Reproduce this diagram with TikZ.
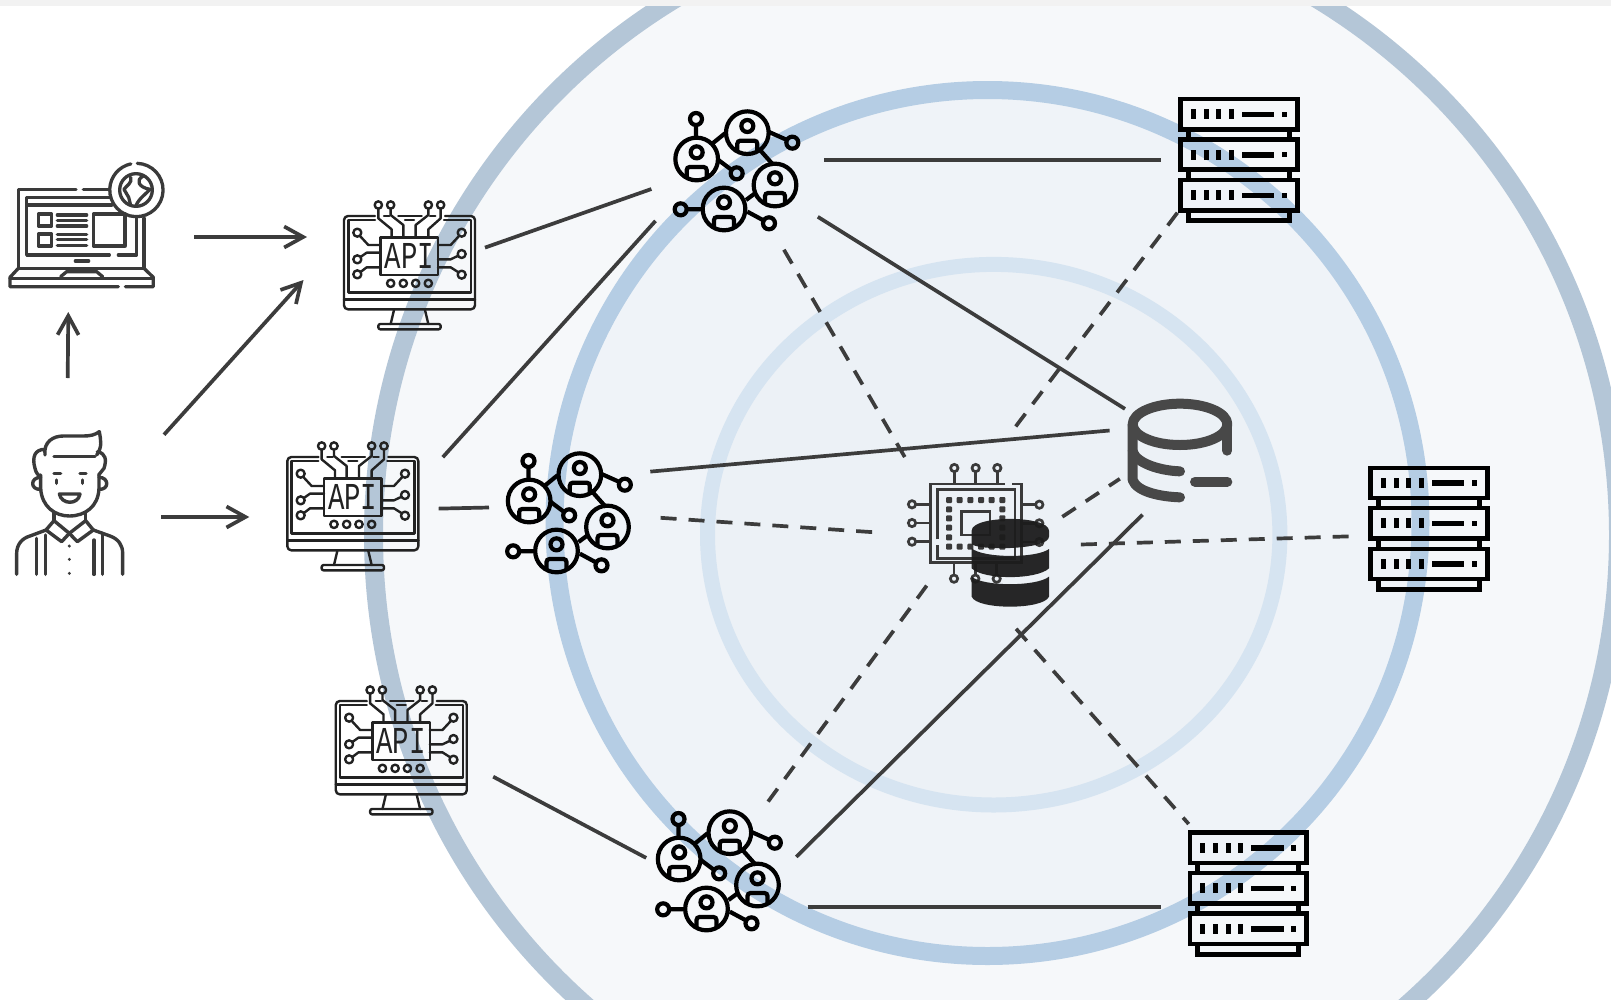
\documentclass[tikz,border=0pt]{standalone}
\usepackage{fontspec}
\newfontfamily\apifont{Liberation Mono}
\usetikzlibrary{arrows.meta}
\definecolor{lineC}{HTML}{3C3C3C}
\definecolor{iconC}{HTML}{3A3A3A}
\definecolor{monC}{HTML}{222222}
\definecolor{dbgrey}{HTML}{484848}
\definecolor{dbdark}{HTML}{1C1C1C}
\definecolor{ringOutFill}{HTML}{F6F8FA}
\definecolor{ringOut}{HTML}{B4C6D7}
\definecolor{ringMidFill}{HTML}{EFF3F8}
\definecolor{ringMid}{HTML}{B5CDE4}
\definecolor{ringInFill}{HTML}{ECF1F6}
\definecolor{ringIn}{HTML}{D6E4F1}
\definecolor{stripC}{HTML}{F2F2F2}
\tikzset{
  zoomunits/.style={x=0.33333pt,y=-0.33333pt},
  solidlink/.style={draw=lineC,line width=3.7pt},
  dashlink/.style={draw=lineC,line width=3.7pt,dash pattern=on 16pt off 12pt},
  arrowlink/.style={draw=lineC,line width=3.7pt,-{Straight Barb[length=19pt,width=21pt,line width=3.7pt]}},
  monline/.style={draw=monC,line width=2.4pt,line cap=round,line join=round},
  netline/.style={draw=black,line width=4.2pt},
  srvline/.style={draw=black,line width=4.6pt,line join=miter},
  lapline/.style={draw=iconC,line width=3.3pt,line cap=round,line join=round},
  perline/.style={draw=iconC,line width=3.4pt,line cap=round,line join=round},
  chipline/.style={draw=iconC,line width=2.7pt,line join=miter},
}
% monitor with API chip; drawn in the units of a 3x crop
\newcommand{\apimon}[2]{%
\begin{scope}[shift={(#1)},zoomunits,monline]
  \draw[rounded corners=4pt] (1125,228)--(1032,228)--(1032,508)--(1425,508)--(1425,228)--(1335,228);
  \draw (1125,240)--(1045,240)--(1045,458)--(1413,458)--(1413,240)--(1332,240);
  \draw (1032,478)--(1425,478);
  \draw (1182,510)--(1172,552) (1275,510)--(1285,552);
  \draw[rounded corners=2pt] (1135,552) rectangle (1322,568);
  \draw (1142,293) rectangle (1314,405);
  \node[text=monC,xscale=.72,inner sep=0pt] (#2) at (1228,348) {\fontsize{38}{38}\apifont API};
  % side pins
  \draw (1072,278) circle[radius=12] (1080,288)--(1105,315)--(1142,315);
  \draw (1072,358) circle[radius=12] (1083,350)--(1100,338)--(1142,338);
  \draw (1072,403) circle[radius=12] (1083,395)--(1100,382)--(1142,382);
  \draw (1385,278) circle[radius=12] (1377,288)--(1352,315)--(1314,315);
  \draw (1385,342) circle[radius=12] (1373,348)--(1352,358)--(1314,358);
  \draw (1385,404) circle[radius=12] (1374,396)--(1352,382)--(1314,382);
  % bottom pins
  \foreach \px in {1172,1210,1247,1285} \draw (\px,430) circle[radius=11];
  % top pins
  \foreach \px in {1135,1172,1285,1322} \draw (\px,195) circle[radius=11];
  \draw (1135,206)--(1135,235)--(1175,268)--(1175,293);
  \draw (1172,206)--(1172,225)--(1210,255)--(1210,293);
  \draw (1285,206)--(1285,225)--(1247,255)--(1247,293);
  \draw (1322,206)--(1322,235)--(1285,268)--(1285,293);
  \draw (1195,228)--(1265,228) (1152,228)--(1168,228) (1290,228)--(1306,228);
  \draw (1215,240)--(1242,240);
\end{scope}}
% network of people
\newcommand{\person}[1]{%
  \draw[netline] (#1) circle[radius=64];
  \draw[netline] ([shift={(0,-20)}]#1) circle[radius=18];
  \draw[netline,rounded corners=3pt] ([shift={(-30,55)}]#1)--([shift={(-30,24)}]#1)--([shift={(30,24)}]#1)--([shift={(30,55)}]#1);
}
\newcommand{\netgroup}[1]{%
\begin{scope}[shift={(#1)},zoomunits]
  \person{170,207}\person{322,128}\person{405,285}\person{252,357}
  \foreach \nx/\ny in {168/87,457/158,290/250,122/358,387/400} \draw[netline] (\nx,\ny) circle[radius=18];
  \draw[netline] (168,105)--(168,142) (218,160)--(255,130) (235,210)--(275,240)
    (385,125)--(441,150) (360,180)--(400,225) (318,330)--(345,310)
    (140,358)--(187,358) (322,365)--(372,392);
\end{scope}}
% rack of three servers
\newcommand{\srvrow}[1]{%
  \draw[srvline] (62,57+#1) rectangle (412,148+#1);
  \foreach \sx in {93,131,169,207} \fill[black] (\sx,88+#1) rectangle (\sx+15,118+#1);
  \fill[black] (245,95+#1) rectangle (343,112+#1);
  \fill[black] (365,95+#1) rectangle (381,111+#1);
}
\newcommand{\rack}[1]{%
\begin{scope}[shift={(#1)},zoomunits]
  \srvrow{0}\srvrow{121}\srvrow{243}
  \draw[srvline] (85,148)--(85,178) (388,148)--(388,178) (85,270)--(85,300) (388,270)--(388,300);
  \draw[srvline] (85,392)--(85,422)--(388,422)--(388,392);
\end{scope}}
\begin{document}
\begin{tikzpicture}[x=1pt,y=-1pt]
\useasboundingbox (0,0) rectangle (1611,999);
\fill[white] (0,0) rectangle (1611,999);
\begin{scope}
  \clip (0,6) rectangle (1611,999);
  \filldraw[fill=ringOutFill,draw=ringOut,line width=19pt] (996,535) ellipse[x radius=622.5,y radius=625.8];
  \filldraw[fill=ringMidFill,draw=ringMid,line width=18pt] (987.5,523) ellipse[x radius=433,y radius=433];
  \filldraw[fill=ringInFill,draw=ringIn,line width=15pt] (993.7,534.7) ellipse[x radius=286.2,y radius=270.3];
\end{scope}
\fill[stripC] (0,0) rectangle (1611,6);

% laptop
\begin{scope}[shift={(0,140)},zoomunits,lapline]
  \draw (228,148)--(55,148)--(55,385);
  \draw (250,148)--(325,148);
  \draw (432,235)--(432,385);
  \draw (330,172)--(80,172)--(80,345)--(328,345);
  \draw (355,345)--(410,345)--(410,235);
  \draw (85,195)--(335,195);
  \draw (280,222)--(375,222)--(375,318)--(280,318)--cycle;
  \draw (115,222) rectangle (155,258) (115,282) rectangle (155,318);
  \foreach \ly in {225,241,258,283,299,316} \draw (172,\ly)--(260,\ly);
  \draw (226,363)--(266,363);
  \draw (55,385)--(432,385);
  \draw (55,385)--(30,412)--(30,440)--(355,440);
  \draw (376,440)--(460,440)--(460,412)--(432,385);
  \draw (30,415)--(460,415);
  \draw (182,410)--(200,395)--(290,395)--(308,410);
  \draw (412,70) arc[start angle=272,end angle=618,radius=80];
  \draw (408,150) circle[radius=49];
  \draw (392,112) .. controls (398,128) and (380,136) .. (372,148) -- (386,172) -- (392,196);
  \draw (430,108) .. controls (406,120) and (415,142) .. (450,148) .. controls (438,162) and (420,172) .. (408,196);
\end{scope}

% person
\begin{scope}[shift={(0,140)},zoomunits,perline]
  \draw (135,945) .. controls (130,905) and (160,888) .. (190,888) -- (250,888) .. controls (270,888) and (285,885) .. (298,875) .. controls (302,900) and (308,920) .. (290,945);
  \draw (162,950)--(285,950);
  \draw (135,928) .. controls (105,928) and (95,950) .. (105,985) .. controls (108,1000) and (115,1005) .. (122,1012);
  \draw (292,935) .. controls (318,940) and (320,960) .. (312,985) -- (296,1005);
  \draw (122,1012) .. controls (90,1012) and (90,1050) .. (122,1048);
  \draw (297,1012) .. controls (328,1012) and (328,1050) .. (297,1048);
  \draw (122,1005) -- (122,1045) .. controls (125,1100) and (165,1128) .. (208,1128) .. controls (255,1128) and (295,1100) .. (297,1045) -- (297,1005);
  \draw (162,1000)--(182,1000) (240,1000)--(258,1000) (170,1020)--(170,1030) (247,1020)--(247,1030);
  \draw (178,1062)--(240,1062) .. controls (235,1095) and (185,1095) .. (178,1062) -- cycle;
  \draw (162,1118)--(162,1142) (257,1118)--(257,1142);
  \draw (162,1142)--(138,1170)--(185,1205)--(208,1180)--(232,1205)--(280,1170)--(257,1142);
  \draw (162,1142)--(208,1180)--(257,1142);
  \draw (138,1170)--(90,1188) .. controls (65,1195) and (50,1215) .. (50,1240) -- (50,1303);
  \draw (280,1170)--(330,1188) .. controls (355,1197) and (368,1215) .. (368,1240) -- (368,1303);
  \draw (110,1195)--(110,1303) (137,1185)--(137,1303) (282,1200)--(282,1303) (308,1180)--(308,1303);
  \fill[iconC] (208,1218) circle[radius=5] (208,1258) circle[radius=5] (208,1300) circle[radius=5];
\end{scope}

\apimon{0,140}{apiA}
\apimon{-56.67,381}{apiB}
\apimon{-8.2,625}{apiC}

\netgroup{640,90}
\netgroup{472.5,432}
\netgroup{622.5,790}

\rack{1160,80}
\rack{1350,448.8}
\rack{1169.2,813.6}

% central chip
\begin{scope}[shift={(880,380)},zoomunits,chipline]
  \draw (375,312)--(152,312)--(152,548)--(425,548)--(425,312)--(395,312);
  \draw (172,478)--(172,328)--(405,328)--(405,535)--(172,535)--(172,495);
  \draw (245,395) rectangle (330,465);
  \foreach \dx in {207,239,271,303,335,367} {\fill[iconC,rounded corners=1pt] (\dx-9,351) rectangle (\dx+9,369); \fill[iconC,rounded corners=1pt] (\dx-9,491) rectangle (\dx+9,509);}
  \foreach \dy in {388,415,443,472} {\fill[iconC,rounded corners=1pt] (198,\dy-9) rectangle (216,\dy+9); \fill[iconC,rounded corners=1pt] (358,\dy-9) rectangle (376,\dy+9);}
  \foreach \dx in {223,287,352} {\draw (\dx,312)--(\dx,275); \draw (\dx,264) circle[radius=11];}
  \foreach \dy in {373,429,485} {\draw (152,\dy)--(107,\dy); \draw (96,\dy) circle[radius=11];}
  \foreach \dy in {374,430,486} {\draw (425,\dy)--(467,\dy); \draw (478,\dy) circle[radius=11];}
  \foreach \dx in {222,286,350} {\draw (\dx,548)--(\dx,585); \draw (\dx,596) circle[radius=11];}
\end{scope}
% dark database
\begin{scope}[shift={(880,380)},zoomunits]
  \fill[dbdark,opacity=.95] (275,452) .. controls (275,405) and (507,405) .. (507,452) -- (507,470) .. controls (507,512) and (275,512) .. (275,490) -- cycle;
  \fill[dbdark,opacity=.95] (275,505) .. controls (310,535) and (470,535) .. (507,507) -- (507,565) .. controls (470,600) and (310,600) .. (275,565) -- cycle;
  \fill[dbdark,opacity=.95] (275,590) .. controls (310,620) and (470,620) .. (507,590) -- (507,650) .. controls (490,690) and (290,690) .. (275,650) -- cycle;
\end{scope}
% grey database
\begin{scope}[shift={(880,380)},zoomunits,draw=dbgrey,line width=10pt,line cap=round,line join=round]
  \draw (900,133) ellipse[x radius=142,y radius=62];
  \draw (758,133)--(758,300) .. controls (770,335) and (840,350) .. (900,352);
  \draw (1042,133)--(1042,212);
  \draw (758,215) .. controls (770,250) and (840,272) .. (900,274);
  \draw (945,305)--(1042,305);
\end{scope}

% connector ends
\coordinate (la) at (485,247.6); \coordinate (lb) at (651.4,189);
\coordinate (lc) at (442.8,457.2); \coordinate (ld) at (655.5,220.9);
\coordinate (le) at (438.7,508.6); \coordinate (lf) at (489,507.5);
\coordinate (lg) at (493.2,776.7); \coordinate (lh) at (646.2,857.9);
\coordinate (li) at (824,160.3); \coordinate (lj) at (1160.6,160.3);
\coordinate (lk) at (817.8,216.8); \coordinate (ll) at (1125,408.9);
\coordinate (lm) at (650.3,471.6); \coordinate (ln) at (1109.6,430.5);
\coordinate (lo) at (796.2,856.9); \coordinate (lp) at (1142.5,514.7);
\coordinate (lq) at (807.5,907.2); \coordinate (lr) at (1160.6,907.2);
\coordinate (da) at (783.9,249.7); \coordinate (db) at (906.1,459.3);
\coordinate (dc) at (1177.4,212.7); \coordinate (dd) at (1015,427.4);
\coordinate (de) at (660.6,517.8); \coordinate (df) at (873.3,532.2);
\coordinate (dg) at (1062.3,516.8); \coordinate (dh) at (1119.8,478.8);
\coordinate (di) at (1080.8,544.5); \coordinate (dj) at (1351,536.3);
\coordinate (dk) at (926.7,585.6); \coordinate (dl) at (767.5,802.4);
\coordinate (dm) at (1016.1,628.8); \coordinate (dn) at (1188.7,824);

\draw[solidlink] (la)--(lb);
\draw[solidlink] (lc)--(ld);
\draw[solidlink] (le)--(lf);
\draw[solidlink] (lg)--(lh);
\draw[solidlink] (li)--(lj);
\draw[solidlink] (lk)--(ll);
\draw[solidlink] (lm)--(ln);
\draw[solidlink] (lo)--(lp);
\draw[solidlink] (lq)--(lr);
\draw[dashlink] (da)--(db);
\draw[dashlink] (dc)--(dd);
\draw[dashlink] (de)--(df);
\draw[dashlink] (dg)--(dh);
\draw[dashlink] (di)--(dj);
\draw[dashlink] (dk)--(dl);
\draw[dashlink] (dm)--(dn);

% arrows
\coordinate (aa) at (194,237); \coordinate (ab) at (307,237);
\coordinate (ac) at (67.7,378); \coordinate (ad) at (68.3,312);
\coordinate (ae) at (164,434.7); \coordinate (af) at (303.5,280);
\coordinate (ag) at (161.3,517); \coordinate (ah) at (249.3,517);
\draw[arrowlink] (aa)--(ab);
\draw[arrowlink] (ac)--(ad);
\draw[arrowlink] (ae)--(af);
\draw[arrowlink] (ag)--(ah);
\end{tikzpicture}
\end{document}
